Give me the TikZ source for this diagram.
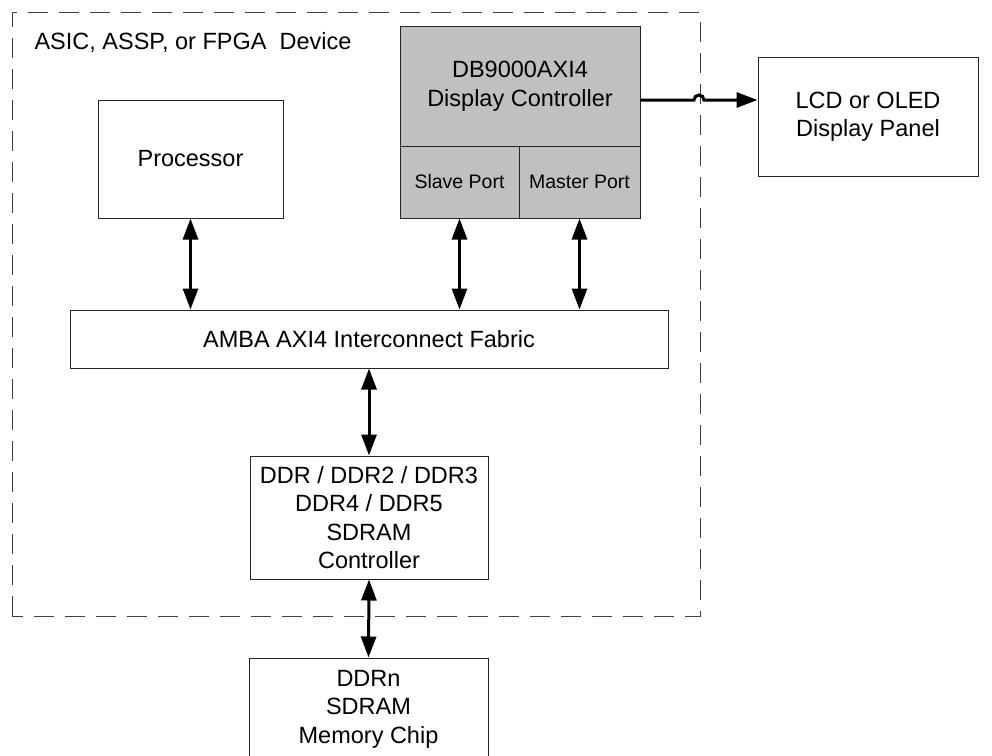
\documentclass[tikz,border=0pt]{standalone}
\usepackage{fontspec}
\setmainfont{Liberation Sans}
\usetikzlibrary{arrows.meta}
\definecolor{boxgray}{HTML}{C0C0C0}
\tikzset{
  blk/.style={draw=black!85, line width=1pt, inner sep=0pt, align=center,
    font=\fontsize{23.5}{28.5}\selectfont},
  portblk/.style={blk, fill=boxgray, font=\fontsize{19.5}{24}\selectfont},
  dual/.style={line width=3pt, {Triangle[width=15pt,length=21pt]}-{Triangle[width=15pt,length=21pt]}},
  single/.style={line width=3pt, -{Triangle[width=15pt,length=21pt]}},
  devborder/.style={draw=black!75, line width=1pt, dash pattern=on 20pt off 11pt}
}
\begin{document}
\begin{tikzpicture}[x=1pt,y=-1pt]
\useasboundingbox (0,0) rectangle (992,755);
\clip (0,0) rectangle (992,755);
\fill[white] (0,0) rectangle (992,755);
% device border
\draw[devborder] (12,616) -- (12,12) -- (700,12) -- (700,616) -- cycle;
\node[anchor=west, font=\fontsize{23.5}{28}\selectfont] (title) at (31,42) {ASIC, ASSP, or FPGA\ \ Device};
% blocks
\node[blk, minimum width=185pt, minimum height=118pt] (proc) at (190.5,159) {Processor};
\node[blk, fill=boxgray, minimum width=240pt, minimum height=120pt] (dc) at (520,86) {DB9000AXI4\\Display Controller};
\node[portblk, minimum width=119pt, minimum height=72pt] (slave) at (459.5,182) {Slave Port};
\node[portblk, minimum width=121pt, minimum height=72pt] (master) at (579.5,182) {Master Port};
\node[blk, minimum width=598pt, minimum height=58pt] (amba) at (369,339) {AMBA AXI4 Interconnect Fabric};
\node[blk, minimum width=238pt, minimum height=123pt] (sdc) at (369,517.5) {DDR / DDR2 / DDR3\\DDR4 / DDR5\\SDRAM\\Controller};
\node[blk, minimum width=239pt, minimum height=102pt] (mem) at (368.5,709) {DDRn\\SDRAM\\Memory Chip};
\node[blk, minimum width=220pt, minimum height=119pt] (lcd) at (868,116.5) {LCD or OLED\\Display Panel};
% connectors
\draw[dual] (proc.south) -- (proc.south |- amba.north);
\draw[dual] (slave.south) -- (slave.south |- amba.north);
\draw[dual] (master.south) -- (master.south |- amba.north);
\draw[dual] (amba.south -| sdc.north) -- (sdc.north);
\draw[dual] (sdc.south) -- (mem.north);
\coordinate (hopL) at (694,100);
\draw[single] (dc.east |- hopL) -- (hopL) arc[start angle=180, end angle=0, radius=5pt] -- (lcd.west |- hopL);
\end{tikzpicture}
\end{document}
